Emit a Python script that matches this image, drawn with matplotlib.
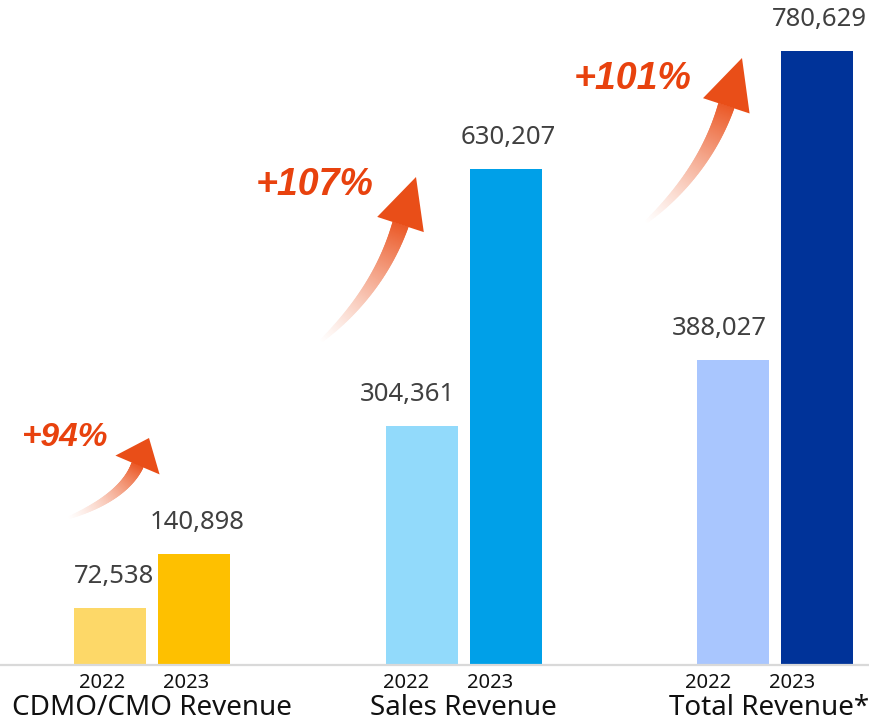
import numpy as np
import matplotlib
matplotlib.use("Agg")
import matplotlib.pyplot as plt
from matplotlib.collections import PolyCollection
from matplotlib.patches import Polygon

plt.rcParams['font.family'] = ['Noto Sans', 'DejaVu Sans']

categories = ['CDMO/CMO Revenue', 'Sales Revenue', 'Total Revenue*']
years = ['2022', '2023']
rev_2022 = [72538, 304361, 388027]
rev_2023 = [140898, 630207, 780629]
colors_2022 = ['#FDD868', '#92DAFB', '#A9C6FE']
colors_2023 = ['#FEC000', '#00A0E8', '#003399']

W, H = 869, 721
fig = plt.figure(figsize=(W / 100, H / 100), dpi=100)
ax = fig.add_axes([0, 56 / H, 1, 665 / H])

group_px = 311.5
x = np.arange(len(categories))
off = 42 / group_px
bw = 72 / group_px

b1 = ax.bar(x - off, rev_2022, bw, color=colors_2022)
b2 = ax.bar(x + off, rev_2023, bw, color=colors_2023)

ax.set_xlim(-152 / group_px, (W - 152) / group_px)
ax.set_ylim(0, 845500)
ax.axis('off')
ax.axhline(0, color='#d9d9d9', lw=1.6, clip_on=False, zorder=3)

# value labels above bars
shift_2022 = [3, -10, -10]
for i in range(len(categories)):
    ax.annotate(f'{rev_2022[i]:,}', (x[i] - off, rev_2022[i]), xytext=(shift_2022[i], 18),
                textcoords='offset points', ha='center', va='baseline',
                fontsize=18.5, color='#404040')
    ax.annotate(f'{rev_2023[i]:,}', (x[i] + off, rev_2023[i]), xytext=(2, 18),
                textcoords='offset points', ha='center', va='baseline',
                fontsize=18.5, color='#404040')

# year labels and category names under the axis
year_shift = [-6, -11, -18]
cat_shift = [0, 0, -4]
for i, cat in enumerate(categories):
    for j, yr in enumerate(years):
        ax.annotate(yr, (x[i] + (2 * j - 1) * off, 0), xytext=(year_shift[i], -16.5),
                    textcoords='offset points', ha='center', va='baseline',
                    fontsize=14.5, color='#111111', annotation_clip=False)
    ax.annotate(cat, (x[i], 0), xytext=(cat_shift[i], -36), textcoords='offset points',
                ha='center', va='baseline', fontsize=20, color='#111111',
                annotation_clip=False)

# overlay in pixel units for the growth arrows
ov = fig.add_axes([0, 0, 1, 1], zorder=5)
ov.set_xlim(0, W)
ov.set_ylim(H, 0)
ov.axis('off')

orange = np.array(matplotlib.colors.to_rgb('#EB5A28'))
white = np.ones(3)


def grad_arrow(tail, ctrl, base, tip, half_head, w1, n=160):
    tail, ctrl, base, tip = map(np.array, (tail, ctrl, base, tip))
    t = np.linspace(0, 1, n)[:, None]
    pts = (1 - t) ** 2 * tail + 2 * (1 - t) * t * ctrl + t ** 2 * base
    der = 2 * (1 - t) * (ctrl - tail) + 2 * t * (base - ctrl)
    der /= np.linalg.norm(der, axis=1)[:, None]
    nrm = np.column_stack([-der[:, 1], der[:, 0]])
    wid = (0.5 + (w1 - 0.5) * t[:, 0] ** 0.6)[:, None] / 2
    left = pts + nrm * wid
    right = pts - nrm * wid
    quads = [[left[i], left[i + 1], right[i + 1], right[i]] for i in range(n - 1)]
    a = (t[:-1, 0] ** 1.2)[:, None]
    cols = white * (1 - a) + orange * a
    ov.add_collection(PolyCollection(quads, facecolors=cols, edgecolors=cols, linewidths=0.6))
    d = (tip - base) / np.linalg.norm(tip - base)
    nn = np.array([-d[1], d[0]])
    ov.add_patch(Polygon([tip, base + nn * half_head, base - nn * half_head],
                         closed=True, color='#E94E18', lw=0))


grad_arrow((68, 518), (124, 497), (137.5, 465), (149, 438), 24, 12)
grad_arrow((320, 342), (379, 291), (400.5, 224.5), (416, 177), 24.5, 16)
grad_arrow((645, 223), (705, 172), (726.3, 105.8), (742, 58), 24.5, 16)

growth = [round((b / a - 1) * 100) for a, b in zip(rev_2022, rev_2023)]
pct_pos = [(65, 438), (315, 185), (633, 79)]
pct_size = [24, 27, 27]
for g, (px, py), fs in zip(growth, pct_pos, pct_size):
    ov.text(px, py, f'+{g}%', ha='center', va='center', fontsize=fs,
            family=['Liberation Sans', 'DejaVu Sans'],
            fontweight='bold', fontstyle='italic', color='#E8420E')

fig.savefig('out.png', dpi=100)
